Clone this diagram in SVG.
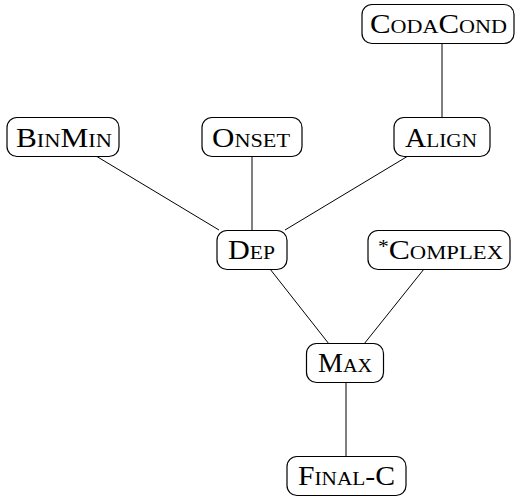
<svg xmlns="http://www.w3.org/2000/svg" width="515" height="498" viewBox="0 0 515 498">
<style>
.box{fill:#fff;stroke:#000;stroke-width:1.2}
.lbl{font-family:"Liberation Serif","DejaVu Serif",serif;font-size:26.5px;font-variant:small-caps;text-anchor:middle;fill:#000}
.edge{stroke:#000;stroke-width:1;fill:none}
.star{font-size:18px;font-variant:normal}
</style>
<rect width="515" height="498" fill="#fff"/>
<g id="connectors">
<line class="edge" x1="442" y1="43.5" x2="442" y2="117.5"/>
<line class="edge" x1="96" y1="156" x2="219" y2="230"/>
<line class="edge" x1="252" y1="156.5" x2="252" y2="230.5"/>
<line class="edge" x1="408" y1="156" x2="285" y2="230"/>
<line class="edge" x1="270" y1="269" x2="329" y2="344"/>
<line class="edge" x1="424" y1="269" x2="364" y2="344"/>
<line class="edge" x1="346" y1="382.5" x2="346" y2="457"/>
</g>
<g id="codacond">
<rect class="box" x="362" y="4.5" width="152" height="39" rx="10"/>
<text class="lbl" x="438.5" y="33" textLength="137" lengthAdjust="spacingAndGlyphs">CodaCond</text>
</g>
<g id="binmin">
<rect class="box" x="7" y="117.5" width="112" height="39" rx="10"/>
<text class="lbl" x="64" y="146.5" textLength="96" lengthAdjust="spacingAndGlyphs">BinMin</text>
</g>
<g id="onset">
<rect class="box" x="202" y="117.5" width="100" height="39" rx="10"/>
<text class="lbl" x="251" y="146.5" textLength="78" lengthAdjust="spacingAndGlyphs">Onset</text>
</g>
<g id="align">
<rect class="box" x="394" y="117.5" width="96" height="39" rx="10"/>
<text class="lbl" x="441" y="146.5" textLength="72" lengthAdjust="spacingAndGlyphs">Align</text>
</g>
<g id="dep">
<rect class="box" x="217" y="230.5" width="70" height="39" rx="10"/>
<text class="lbl" x="251.5" y="259" textLength="47" lengthAdjust="spacingAndGlyphs">Dep</text>
</g>
<g id="complex">
<rect class="box" x="368" y="230.5" width="142" height="39" rx="10"/>
<text class="lbl" x="440.5" y="259" textLength="125" lengthAdjust="spacingAndGlyphs"><tspan class="star" dy="-6">*</tspan><tspan dy="6">Complex</tspan></text>
</g>
<g id="max">
<rect class="box" x="306.5" y="343.5" width="77" height="39" rx="10"/>
<text class="lbl" x="345" y="372" textLength="54" lengthAdjust="spacingAndGlyphs">Max</text>
</g>
<g id="final-c">
<rect class="box" x="287" y="456.5" width="119" height="39" rx="10"/>
<text class="lbl" x="346.5" y="485" textLength="97" lengthAdjust="spacingAndGlyphs">Final-C</text>
</g>
</svg>
